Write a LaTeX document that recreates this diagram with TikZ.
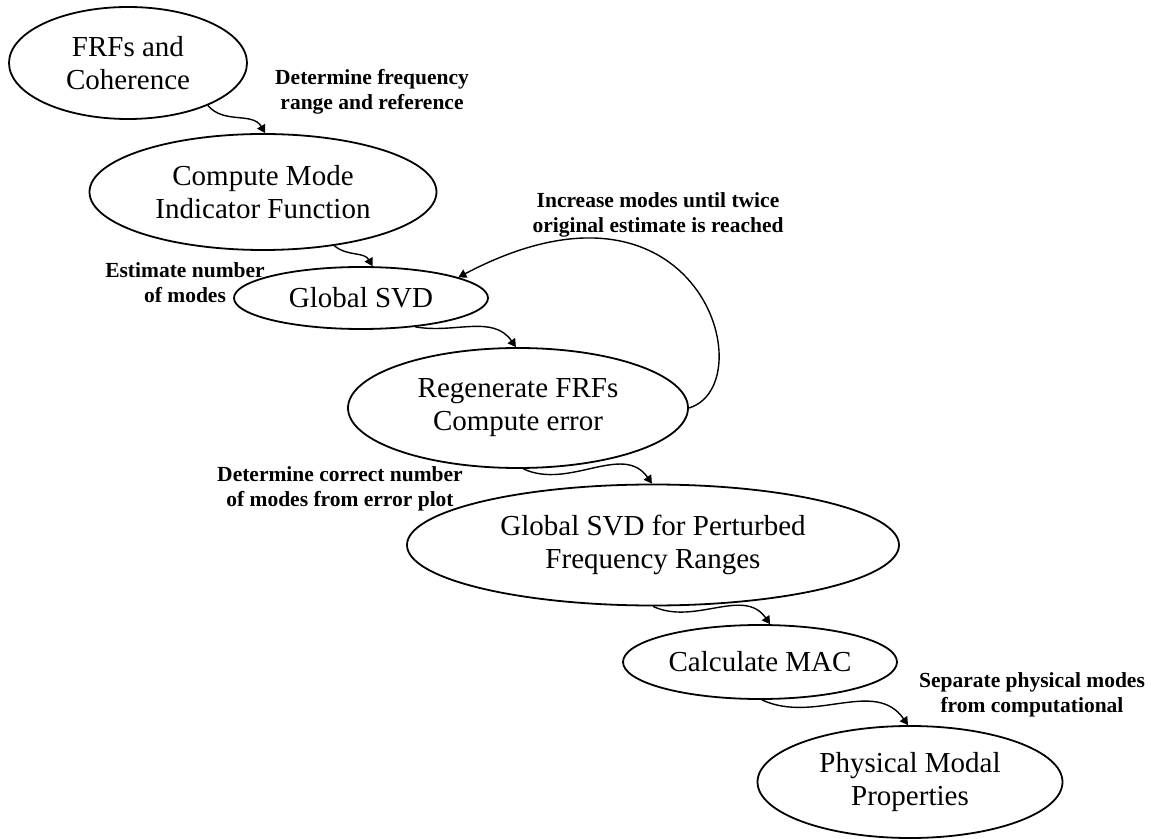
\documentclass[tikz,border=0pt]{standalone}
\usepackage{fontspec}
\setmainfont{Liberation Serif}
\usepackage{tikz}
\usetikzlibrary{shapes.geometric,arrows.meta}

\begin{document}
\begin{tikzpicture}[x=0.5pt,y=-0.5pt,
    stage/.style={ellipse, draw, line width=0.9pt, align=center,
        inner xsep=-20pt, inner ysep=-4pt,
        font=\fontsize{14.5}{16.5}\selectfont},
    note/.style={align=center, font=\bfseries\fontsize{10.75}{12.5}\selectfont},
    flow/.style={line width=0.7pt, -{Triangle[length=4pt,width=4.5pt]}}]
    \useasboundingbox (0,0) rectangle (1151,839);
    % stages
    \node [stage, minimum width=119pt, minimum height=56pt] (frf) at (128,63) {FRFs and\\Coherence};
    \node [stage, minimum width=173.5pt, minimum height=58pt] (cmif) at (263,192) {Compute Mode\\Indicator Function};
    \node [stage, minimum width=127pt, minimum height=31pt] (gsvd) at (361,298) {Global SVD};
    \node [stage, minimum width=170pt, minimum height=60pt] (regen) at (518,408) {Regenerate FRFs\\Compute error};
    \node [stage, minimum width=246pt, minimum height=60.5pt] (pert) at (653,545) {Global SVD for Perturbed\\Frequency Ranges};
    \node [stage, minimum width=137pt, minimum height=37pt] (mac) at (760,662) {Calculate MAC};
    \node [stage, minimum width=152.5pt, minimum height=56pt] (phys) at (910,782) {Physical Modal\\Properties};
    % labels
    \node [note] (lrange) at (372,92) {Determine frequency\\range and reference};
    \node [note] (lest) at (185,283) {Estimate number\\of modes};
    \node [note] (lloop) at (658,215) {Increase modes until twice\\original estimate is reached};
    \node [note] (lcorr) at (340,489) {Determine correct number\\of modes from error plot};
    \node [note] (lsep) at (1032,695) {Separate physical modes\\from computational};
    % connectors
    \draw [flow] (frf.-28) to[out=-50,in=120] (cmif.88);
    \draw [flow] (cmif.-37) to[out=-40,in=120] (gsvd.70);
    \draw [flow] (gsvd.-28) to[out=-10,in=125] (regen.92);
    \draw [flow] (regen.-85) to[out=-25,in=125] (pert.91);
    \draw [flow] (pert.-90) to[out=-25,in=125] (mac.75);
    \draw [flow] (mac.-87) to[out=-25,in=125] (phys.92);
    \draw [flow] (regen.east) .. controls (765,385) and (700,150) .. (gsvd.12);
\end{tikzpicture}
\end{document}
